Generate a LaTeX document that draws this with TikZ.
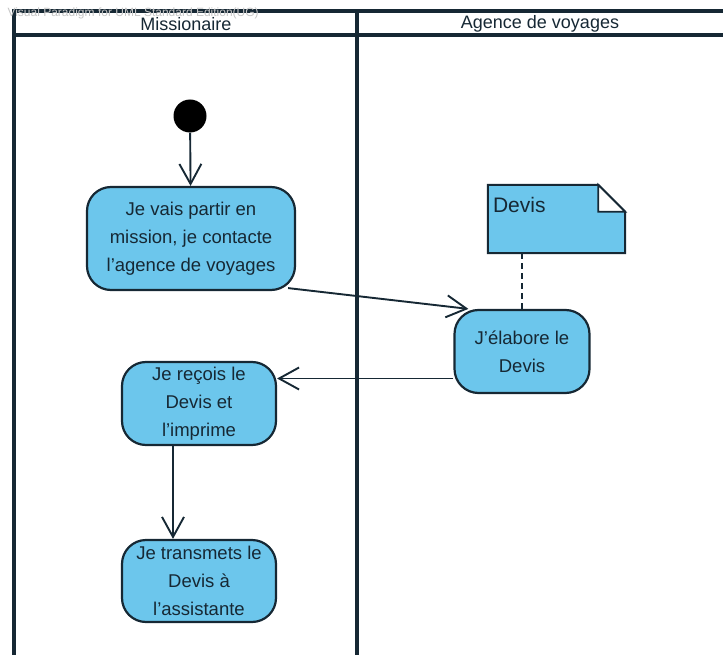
\documentclass[tikz,border=0pt]{standalone}
\usepackage{fontspec}
\setmainfont{Liberation Sans}
\usepackage{tikz}
\usetikzlibrary{arrows.meta}
\tikzset{>={Straight Barb[length=20pt,width=22pt]}}
\definecolor{actfill}{RGB}{108,198,236}
\definecolor{lineclr}{RGB}{22,40,52}

\begin{document}
\begin{tikzpicture}[
    x = 1pt, y = -1pt,
    lane/.style = {draw=lineclr, line width=3.6pt},
    act/.style = {draw=lineclr, line width=2.2pt, fill=actfill,
        rounded corners=24pt, align=center, inner sep=0pt, text=lineclr,
        font=\fontsize{18.5}{28}\selectfont},
    flow/.style = {draw=lineclr, line width=1.9pt, ->},
    head/.style = {font=\fontsize{18}{20}\selectfont, text=lineclr}
  ]
  \useasboundingbox (0,0) rectangle (723,655);

  % swimlanes
  \draw[lane] (14,655) -- (14,11) -- (723,11);
  \draw[lane] (14,35) -- (723,35);
  \draw[lane] (357,11) -- (357,655);
  \node[head] (mis) at (186,24) {Missionaire};
  \node[head] (agv) at (540,24) {Agence de voyages};
  \node[anchor=west, text=gray!45, font=\fontsize{12}{14}\selectfont] (vp) at (4,13)
    {Visual Paradigm for UML Standard Edition(UG)};

  % activities
  \node[circle, fill=black, minimum size=33pt, inner sep=0pt] (init) at (190,116) {};
  \node[act, minimum width=208pt, minimum height=103pt] (contact) at (191,238.5)
    {Je vais partir en\\ mission, je contacte\\ l'agence de voyages};
  \node[act, minimum width=135pt, minimum height=83pt] (elab) at (522,351.5)
    {J'élabore le\\ Devis};
  \node[act, minimum width=154pt, minimum height=83pt] (recoit) at (199,403.5)
    {Je reçois le\\ Devis et\\ l'imprime};
  \node[act, minimum width=154pt, minimum height=82pt] (transm) at (199,581)
    {Je transmets le\\ Devis à\\ l'assistante};

  % note
  \node[minimum width=137pt, minimum height=68pt, inner sep=0pt] (devis) at (556.5,219) {};
  \filldraw[draw=lineclr, line width=2pt, fill=actfill] (devis.north west)
    -- ([xshift=-27pt]devis.north east) -- ([yshift=-27pt]devis.north east)
    -- (devis.south east) -- (devis.south west) -- cycle;
  \filldraw[draw=lineclr, line width=1.8pt, fill=white] ([xshift=-27pt]devis.north east)
    -- ([xshift=-27pt,yshift=-27pt]devis.north east) -- ([yshift=-27pt]devis.north east) -- cycle;
  \node[anchor=north west, inner sep=0pt, text=lineclr, font=\fontsize{21}{24}\selectfont] (devtxt)
    at ([xshift=5pt,yshift=-12pt]devis.north west) {Devis};

  % flows
  \draw[flow] (init) -- (contact);
  \draw[flow] ([xshift=-8pt,yshift=3pt]contact.south east) -- ([xshift=15pt]elab.north west);
  \coordinate (back) at ([yshift=-27pt]elab.west);
  \draw[flow] (back) -- (back -| recoit.east);
  \draw[flow] ([xshift=-26pt]recoit.south) -- ([xshift=-26pt]transm.north);
  \draw[draw=lineclr, line width=1.8pt, dash pattern=on 6pt off 4pt] (elab.north) -- (elab.north |- devis.south);
\end{tikzpicture}
\end{document}
